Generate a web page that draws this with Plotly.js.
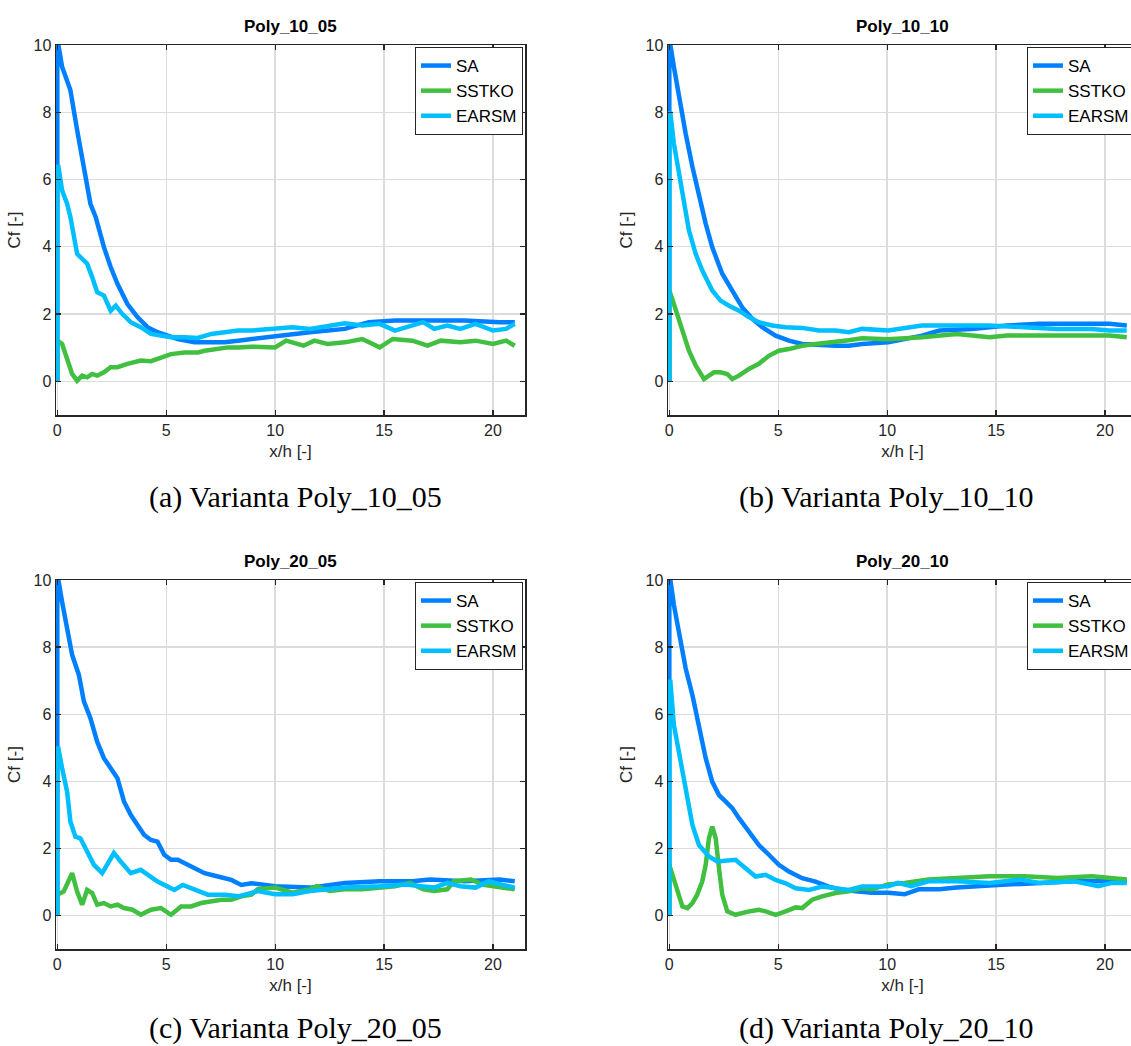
<!DOCTYPE html>
<html>
<head>
<meta charset="utf-8">
<script src="https://cdn.plot.ly/plotly-3.0.1.min.js"></script>
<style>
html,body{margin:0;padding:0;overflow:hidden;background:#fff;}
#chart{width:1140px;height:1046px;}
</style>
</head>
<body>
<div id="chart"></div>
<script>
// ---- Data ----
const seriesNames = ["SA", "SSTKO", "EARSM"];
const panelTitles = ["Poly_10_05", "Poly_10_10", "Poly_20_05", "Poly_20_10"];
const captions = ["(a) Varianta Poly_10_05", "(b) Varianta Poly_10_10", "(c) Varianta Poly_20_05", "(d) Varianta Poly_20_10"];
const xTicks = [0, 5, 10, 15, 20];
const yTicks = [0, 2, 4, 6, 8, 10];

// Panel a: Poly_10_05
const p1_SA_x = [0,0,0.05,0.22,0.6,0.91,1.22,1.52,1.76,2.14,2.45,2.76,3.22,3.68,4.14,4.6,5.07,5.53,6.3,7.07,7.68,8.3,8.91,10.0,11.6,13.2,14.3,15.5,17.1,18.7,20.3,21.0];
const p1_SA_y = [0,10,10,9.35,8.66,7.47,6.38,5.28,4.89,3.99,3.40,2.90,2.30,1.91,1.61,1.46,1.36,1.26,1.16,1.16,1.16,1.21,1.26,1.36,1.46,1.56,1.76,1.81,1.81,1.81,1.76,1.76];
const p1_SST_x = [0,0,0.22,0.45,0.68,0.91,1.14,1.37,1.6,1.83,2.14,2.45,2.76,3.22,3.83,4.3,4.76,5.22,5.84,6.45,6.76,7.38,7.84,8.3,8.91,10.0,10.5,11.3,11.8,12.4,13.2,14.0,14.8,15.4,16.3,17.0,17.6,18.5,19.2,20.0,20.6,21.0];
const p1_SST_y = [0,1.21,1.11,0.71,0.22,0.02,0.17,0.12,0.22,0.17,0.27,0.42,0.42,0.52,0.62,0.60,0.71,0.81,0.86,0.86,0.91,0.96,1.01,1.01,1.03,1.01,1.21,1.06,1.21,1.11,1.16,1.26,1.01,1.26,1.21,1.06,1.21,1.16,1.21,1.11,1.21,1.06];
const p1_EA_x = [0,0,0.05,0.22,0.45,0.6,0.75,0.91,1.14,1.37,1.6,1.83,2.14,2.45,2.68,2.99,3.37,3.83,4.3,4.76,5.22,5.84,6.45,7.07,7.68,8.3,8.91,10.0,10.8,11.6,12.4,13.2,14.0,14.8,15.5,16.3,16.8,17.3,17.9,18.5,19.2,20.0,20.6,21.0];
const p1_EA_y = [0,6.38,6.38,5.68,5.28,4.89,4.39,3.79,3.64,3.5,3.1,2.65,2.55,2.1,2.25,2.0,1.76,1.61,1.41,1.36,1.31,1.31,1.29,1.41,1.46,1.51,1.51,1.56,1.61,1.56,1.66,1.73,1.66,1.71,1.51,1.66,1.76,1.56,1.66,1.56,1.71,1.51,1.56,1.71];

// Panel b: Poly_10_10
const p2_SA_x = [0,0,0.05,0.21,0.44,0.75,1.06,1.36,1.67,1.97,2.43,2.89,3.35,3.81,4.27,4.88,5.49,6.1,7.02,7.63,8.24,8.85,10.05,11.6,12.4,13.9,15.5,17.0,18.6,20.2,21.0];
const p2_SA_y = [0,10,10,9.35,8.46,7.37,6.38,5.48,4.69,3.99,3.2,2.7,2.2,1.86,1.61,1.36,1.21,1.11,1.06,1.06,1.06,1.11,1.16,1.36,1.51,1.56,1.66,1.71,1.71,1.71,1.66];
const p2_SST_x = [0,0,0.21,0.6,0.9,1.21,1.59,1.82,2.05,2.35,2.66,2.89,3.2,3.65,4.11,4.57,5.03,5.49,6.1,6.71,7.63,8.24,8.85,10.05,11.6,13.2,14.7,15.5,17.0,18.6,20.2,21.0];
const p2_SST_y = [0,2.7,2.3,1.51,0.91,0.47,0.07,0.17,0.27,0.27,0.22,0.07,0.17,0.37,0.52,0.76,0.91,0.96,1.06,1.11,1.16,1.22,1.28,1.25,1.31,1.41,1.31,1.36,1.36,1.36,1.36,1.31];
const p2_EA_x = [0,0,0.05,0.21,0.44,0.67,0.9,1.21,1.51,1.97,2.35,2.74,3.2,3.65,4.11,4.72,5.34,6.1,6.87,7.63,8.24,8.85,10.05,11.6,13.2,14.7,16.3,17.8,19.4,20.2,21.0];
const p2_EA_y = [0,7.96,7.96,7.07,6.18,5.18,4.49,3.79,3.3,2.7,2.4,2.25,2.1,1.91,1.76,1.66,1.61,1.59,1.51,1.51,1.46,1.56,1.51,1.66,1.66,1.66,1.61,1.56,1.56,1.51,1.51];

// Panel c: Poly_20_05
const p3_SA_x = [0,0,0.05,0.22,0.45,0.68,0.99,1.22,1.52,1.83,2.14,2.45,2.76,3.06,3.37,3.68,3.99,4.3,4.6,4.91,5.22,5.53,5.84,6.3,6.76,7.37,7.99,8.45,8.91,10.0,11.6,13.2,14.8,16.3,17.1,18.7,20.3,21.0];
const p3_SA_y = [0,10,10,9.35,8.56,7.77,7.17,6.38,5.88,5.18,4.69,4.39,4.09,3.4,3.0,2.7,2.4,2.25,2.2,1.81,1.66,1.66,1.56,1.41,1.26,1.16,1.06,0.91,0.96,0.87,0.83,0.97,1.02,1.02,1.07,1.02,1.07,1.02];
const p3_SST_x = [0,0,0.29,0.68,0.91,1.14,1.37,1.6,1.83,2.14,2.45,2.76,3.06,3.45,3.83,4.3,4.76,5.22,5.68,6.14,6.6,7.07,7.53,7.99,8.45,8.91,9.2,10.0,10.8,11.6,11.9,12.5,13.2,14.0,14.8,15.5,16.2,16.8,17.3,17.9,18.2,19.0,19.5,20.1,21.0];
const p3_SST_y = [0,0.62,0.71,1.26,0.71,0.32,0.76,0.67,0.32,0.37,0.27,0.32,0.22,0.17,0.02,0.17,0.22,0.02,0.27,0.27,0.37,0.42,0.47,0.47,0.57,0.62,0.78,0.83,0.68,0.78,0.87,0.73,0.78,0.78,0.83,0.87,0.97,0.78,0.73,0.78,1.02,1.07,0.92,0.87,0.78];
const p3_EA_x = [0,0,0.05,0.22,0.45,0.6,0.83,1.06,1.37,1.68,2.06,2.29,2.6,2.91,3.37,3.83,4.14,4.6,5.07,5.37,5.76,6.3,6.91,7.68,8.3,8.91,9.2,10.0,10.8,11.6,12.4,13.2,14.8,16.0,16.7,17.3,17.9,18.5,19.2,19.8,20.4,21.0];
const p3_EA_y = [0,4.98,4.98,4.39,3.69,2.8,2.35,2.3,1.91,1.51,1.26,1.51,1.86,1.61,1.26,1.36,1.21,1.01,0.86,0.76,0.91,0.76,0.62,0.62,0.57,0.67,0.73,0.63,0.63,0.73,0.78,0.83,0.87,0.92,0.87,0.83,0.97,0.87,0.83,1.02,0.92,0.83];

// Panel d: Poly_20_10
const p4_SA_x = [0,0,0.05,0.21,0.44,0.75,1.06,1.36,1.67,1.97,2.28,2.58,2.89,3.2,3.65,4.11,4.57,5.03,5.49,6.1,6.71,7.32,7.94,8.55,9.3,10.05,10.8,11.45,12.4,13.2,13.9,14.7,15.5,17.0,18.6,20.0,21.0];
const p4_SA_y = [0,10,10,9.26,8.46,7.37,6.57,5.58,4.69,3.99,3.59,3.4,3.2,2.9,2.5,2.1,1.81,1.51,1.31,1.11,1.01,0.86,0.76,0.72,0.68,0.68,0.63,0.78,0.78,0.83,0.87,0.89,0.92,0.97,1.02,1.02,1.02];
const p4_SST_x = [0,0,0.29,0.6,0.83,1.06,1.28,1.51,1.67,1.82,1.97,2.13,2.28,2.43,2.66,3.04,3.65,4.11,4.42,4.88,5.34,5.8,6.1,6.56,7.02,7.63,8.24,8.85,9.3,10.05,10.8,11.9,13.2,14.7,16.3,17.8,19.4,21.0];
const p4_SST_y = [0,1.51,0.91,0.27,0.22,0.37,0.62,1.01,1.51,2.3,2.65,2.3,1.41,0.62,0.12,0.02,0.12,0.17,0.12,0.02,0.12,0.24,0.22,0.47,0.57,0.67,0.72,0.81,0.78,0.92,0.97,1.07,1.12,1.17,1.17,1.12,1.17,1.07];
const p4_EA_x = [0,0,0.05,0.21,0.44,0.75,1.06,1.36,1.82,2.2,2.74,3.04,3.5,3.96,4.42,4.88,5.34,5.8,6.41,7.02,7.63,8.24,8.85,9.3,10.05,10.5,11.1,11.9,13.2,14.7,16.1,17.0,18.6,19.7,20.3,21.0];
const p4_EA_y = [0,6.97,6.97,5.68,4.89,3.79,2.7,2.1,1.76,1.61,1.66,1.66,1.41,1.16,1.21,1.06,0.96,0.81,0.76,0.86,0.81,0.76,0.86,0.87,0.87,0.97,0.87,1.02,1.02,0.97,1.07,0.97,1.02,0.87,0.97,0.97];

// ---- Styling ----
const colors = {SA: "rgb(0,128,255)", SSTKO: "rgb(64,191,64)", EARSM: "rgb(0,191,255)"};
const FW = 1140, FH = 1046;
const panels = [
  {data: [[p1_SA_x,p1_SA_y],[p1_SST_x,p1_SST_y],[p1_EA_x,p1_EA_y]], px: [56, 525], py: [45, 415]},
  {data: [[p2_SA_x,p2_SA_y],[p2_SST_x,p2_SST_y],[p2_EA_x,p2_EA_y]], px: [668, 1137], py: [45, 415]},
  {data: [[p3_SA_x,p3_SA_y],[p3_SST_x,p3_SST_y],[p3_EA_x,p3_EA_y]], px: [56, 525], py: [580, 949]},
  {data: [[p4_SA_x,p4_SA_y],[p4_SST_x,p4_SST_y],[p4_EA_x,p4_EA_y]], px: [668, 1137], py: [580, 949]}
];
const titleY = [26, 26, 561, 561];
const captionY = [497, 497, 1028, 1028];
const captionX = [295, 886, 295, 886];

const font = "Liberation Sans, Arial, Helvetica, sans-serif";
const axCol = "#262626";
const traces = [];
const layout = {
  width: FW, height: FH,
  margin: {l: 0, r: 0, t: 0, b: 0},
  paper_bgcolor: "#fff", plot_bgcolor: "#fff",
  font: {family: font, color: axCol, size: 16},
  annotations: []
};

panels.forEach((p, i) => {
  const n = i + 1;
  const xa = n === 1 ? "xaxis" : "xaxis" + n;
  const ya = n === 1 ? "yaxis" : "yaxis" + n;
  const lg = n === 1 ? "legend" : "legend" + n;
  const xr = n === 1 ? "x" : "x" + n;
  const yr = n === 1 ? "y" : "y" + n;
  seriesNames.forEach((s, k) => {
    traces.push({
      type: "scatter", mode: "lines",
      x: p.data[k][0], y: p.data[k][1],
      name: s, xaxis: xr, yaxis: yr, legend: lg,
      line: {color: colors[s], width: 4.5},
      hoverinfo: "skip"
    });
  });
  const common = {
    showgrid: true, gridcolor: "#dcdcdc", gridwidth: 1.3,
    zeroline: false, showline: true, linecolor: axCol, linewidth: 1.5,
    mirror: "ticks", ticks: "inside", ticklen: 5, tickwidth: 1.2, tickcolor: axCol,
    tickfont: {family: font, size: 16, color: axCol},
    fixedrange: true
  };
  layout[xa] = Object.assign({}, common, {
    domain: [p.px[0] / FW, p.px[1] / FW], anchor: yr,
    range: [-0.06, 21.47], tickmode: "array", tickvals: xTicks, ticktext: xTicks.map(String),
    title: {text: "x/h [-]", font: {family: font, size: 17, color: axCol}, standoff: 7}
  });
  layout[ya] = Object.assign({}, common, {
    domain: [1 - p.py[1] / FH, 1 - p.py[0] / FH], anchor: xr,
    range: [-1, 10], tickmode: "array", tickvals: yTicks, ticktext: yTicks.map(String),
    title: {text: "Cf [-]", font: {family: font, size: 17, color: axCol}, standoff: 8}
  });
  layout[lg] = {
    x: (p.px[1] - 2) / FW, y: 1 - (p.py[0] + 2) / FH, xanchor: "right", yanchor: "top",
    xref: "paper", yref: "paper",
    bgcolor: "#fff", bordercolor: axCol, borderwidth: 1,
    font: {family: font, size: 17, color: "#000"},
    tracegroupgap: 0, itemwidth: 30
  };
  layout.annotations.push({
    text: "<b>" + panelTitles[i] + "</b>", xref: "paper", yref: "paper",
    x: ((p.px[0] + p.px[1]) / 2) / FW, y: 1 - titleY[i] / FH,
    xanchor: "center", yanchor: "middle", showarrow: false,
    font: {family: font, size: 17, color: "#000"}
  });
  layout.annotations.push({
    text: captions[i], xref: "paper", yref: "paper",
    x: captionX[i] / FW, y: 1 - captionY[i] / FH,
    xanchor: "center", yanchor: "middle", showarrow: false,
    font: {family: "Liberation Serif, DejaVu Serif, serif", size: 30, color: "#000"}
  });
});

Plotly.newPlot("chart", traces, layout, {displayModeBar: false, staticPlot: true});
</script>
</body>
</html>
